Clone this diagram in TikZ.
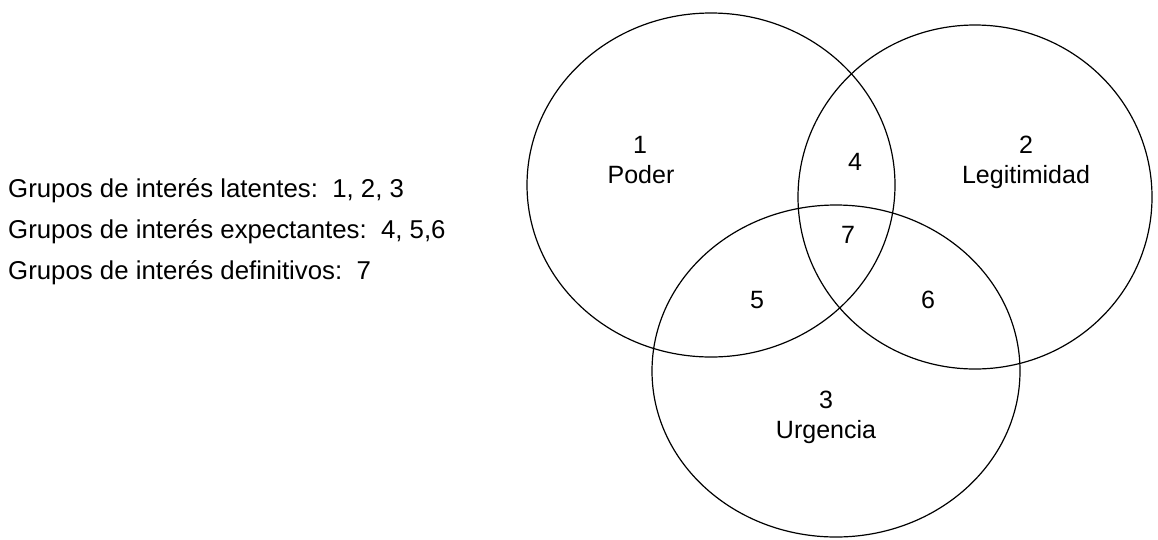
\documentclass[tikz,border=0pt]{standalone}
\usepackage{fontspec}
\setmainfont{Liberation Sans}
\begin{document}
\begin{tikzpicture}[x=1pt,y=-1pt,
  lbl/.style={font=\fontsize{25}{30}\selectfont, anchor=base, inner sep=0pt},
  grp/.style={font=\fontsize{25.8}{30}\selectfont, anchor=base west, inner sep=0pt}]
  \useasboundingbox (0,0) rectangle (1158,539);

  % Draw circles
  \draw[line width=1.2pt] (711,185) ellipse (184 and 172);
  \draw[line width=1.2pt] (975,197) ellipse (177 and 172);
  \draw[line width=1.2pt] (836,371) ellipse (184 and 166);

  % Draw labels
  \node[lbl] (one) at (640,153) {1};
  \node[lbl] (poder) at (641,183) {Poder};
  \node[lbl] (two) at (1026,153) {2};
  \node[lbl] (legit) at (1026,183) {Legitimidad};
  \node[lbl] (three) at (826,408) {3};
  \node[lbl] (urg) at (826,438) {Urgencia};
  \node[lbl] (four) at (855,170) {4};
  \node[lbl] (seven) at (848,243) {7};
  \node[lbl] (five) at (757,308) {5};
  \node[lbl] (six) at (928,308) {6};

  % Draw legend
  \node[grp] (lat) at (8,197) {Grupos de interés latentes:\ \ 1, 2, 3};
  \node[grp] (exp) at (8,238) {Grupos de interés expectantes:\ \ 4, 5,6};
  \node[grp] (def) at (8,279) {Grupos de interés definitivos:\ \ 7};
\end{tikzpicture}
\end{document}
